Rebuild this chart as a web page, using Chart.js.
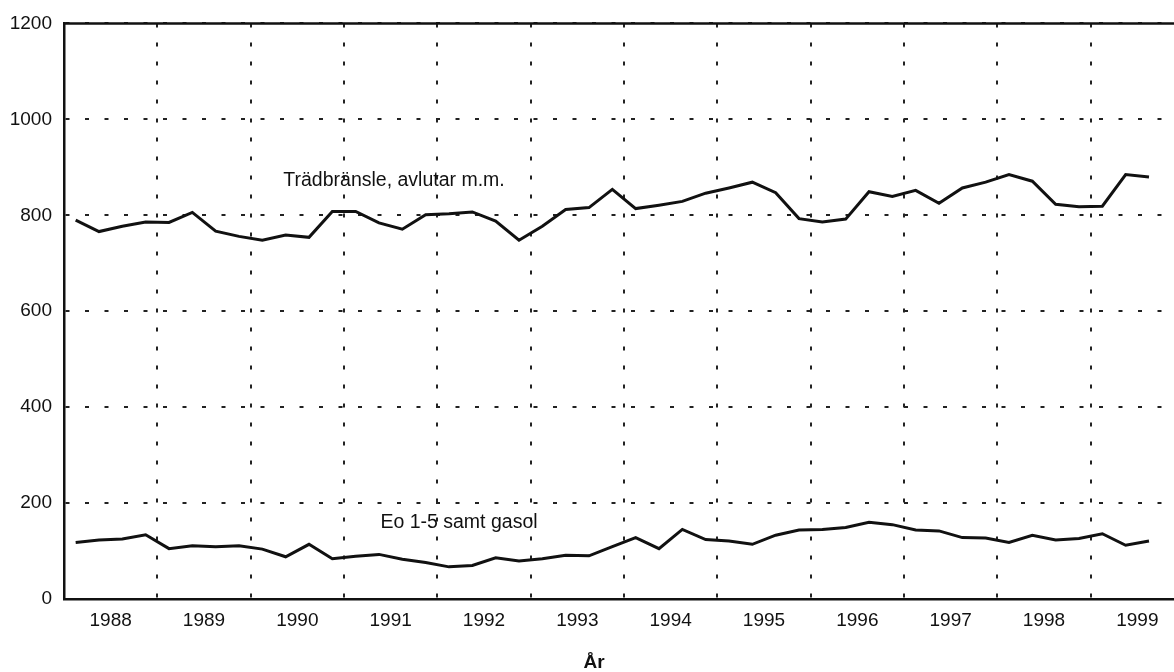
<!DOCTYPE html>
<html lang="sv">
<head>
<meta charset="utf-8">
<title>Trädbränsle och Eo 1-5</title>
<script src="https://cdn.jsdelivr.net/npm/chart.js@4.4.1/dist/chart.umd.min.js"></script>
<style>
    html, body { margin: 0; padding: 0; background: #fff; overflow: hidden; }
    /* a bit wider than the window: the 1999 column runs off the right edge like in the original */
    #wrap { position: relative; width: 1184px; height: 672px; }
</style>
</head>
<body>
<div id="wrap"><canvas id="myChart"></canvas></div>
<script>
const years = [1988, 1989, 1990, 1991, 1992, 1993, 1994, 1995, 1996, 1997, 1998, 1999];

// quarters, "1988:1" ... (series stop at 1999:3)
const quarters = [];
years.forEach(y => [1, 2, 3, 4].forEach(q => quarters.push(y + ':' + q)));

const seriesNames = ['Trädbränsle, avlutar m.m.', 'Eo 1-5 samt gasol'];

const tradbransle = [790, 766, 777, 786, 785, 806, 767, 756, 748, 759, 754, 808,
    808, 784, 771, 801, 803, 807, 788, 748, 777, 812, 816, 854,
    814, 821, 829, 846, 857, 869, 847, 793, 786, 792, 849, 839,
    852, 825, 857, 869, 885, 871, 823, 818, 819, 885, 880];

const eo = [118, 123, 125, 134, 105, 111, 109, 111, 104, 88, 114, 84,
    89, 93, 83, 76, 67, 70, 86, 79, 84, 91, 90, 109,
    128, 105, 145, 124, 121, 114, 133, 144, 145, 149, 160, 155,
    144, 142, 128, 127, 118, 133, 123, 126, 136, 112, 121];

const yMax = 1200;
const yStep = 200;
const axisTitle = 'År';

// quarter label -> position on the year axis (middle of the quarter)
function qx(label) {
    const [y, q] = label.split(':').map(Number);
    return y + (q - 0.5) / 4;
}

function toPoints(values) {
    return values.map((v, i) => ({ x: qx(quarters[i]), y: v }));
}

const ink = '#111';
const fontFamily = '"Liberation Sans", Arial, Helvetica, sans-serif';

// solid top frame, series names and axis title
const framePlugin = {
    id: 'frame',
    afterDraw(chart) {
        const { ctx, chartArea, scales: { x, y } } = chart;
        ctx.save();
        ctx.strokeStyle = ink;
        ctx.lineWidth = 2.5;
        ctx.beginPath();
        ctx.moveTo(chartArea.left, chartArea.top);
        ctx.lineTo(chartArea.right, chartArea.top);
        ctx.stroke();

        ctx.fillStyle = ink;
        ctx.textBaseline = 'middle';
        ctx.textAlign = 'left';
        ctx.font = '19.5px ' + fontFamily;
        const names = chart.data.datasets.map(d => d.label);
        ctx.fillText(names[0], x.getPixelForValue(1990.35), y.getPixelForValue(873));
        ctx.fillText(names[1], x.getPixelForValue(1991.39), y.getPixelForValue(160));

        ctx.textAlign = 'center';
        ctx.font = 'bold 19px ' + fontFamily;
        ctx.fillText(axisTitle, x.getPixelForValue(1993.68), 663);
        ctx.restore();
    }
};

const ctx = document.getElementById('myChart').getContext('2d');

const myChart = new Chart(ctx, {
    type: 'line',
    data: {
        datasets: [{
            label: seriesNames[0],
            data: toPoints(tradbransle)
        }, {
            label: seriesNames[1],
            data: toPoints(eo)
        }]
    },
    options: {
        responsive: true,
        maintainAspectRatio: false,
        animation: false,
        layout: { padding: { top: 19, right: 0, bottom: 0, left: 0 } },
        elements: {
            point: { radius: 0 },
            line: { tension: 0, borderWidth: 3, borderColor: ink, fill: false }
        },
        plugins: {
            legend: { display: false },
            tooltip: { enabled: false }
        },
        scales: {
            x: {
                type: 'linear',
                min: years[0],
                max: years[years.length - 1] + 1,
                // labels in the middle of each year, grid lines between them
                afterBuildTicks: scale => { scale.ticks = years.map(y => ({ value: y + 0.5 })); },
                afterFit: scale => { scale.height = 73; },
                grid: { offset: true, color: '#222', lineWidth: 2, drawTicks: false },
                border: { display: true, color: ink, width: 2.5, dash: [4, 15] },
                ticks: {
                    padding: 10,
                    color: ink,
                    autoSkip: false,
                    maxRotation: 0,
                    font: { family: fontFamily, size: 19 },
                    callback: v => String(Math.floor(v))
                }
            },
            y: {
                min: 0,
                max: yMax,
                afterFit: scale => { scale.width = 64; },
                grid: { color: '#222', lineWidth: 2, drawTicks: false },
                border: { display: true, color: ink, width: 2.5, dash: [4, 15.5] },
                ticks: {
                    stepSize: yStep,
                    padding: 12,
                    color: ink,
                    font: { family: fontFamily, size: 19 },
                    callback: v => String(v)
                }
            }
        }
    },
    plugins: [framePlugin]
});
</script>
</body>
</html>
